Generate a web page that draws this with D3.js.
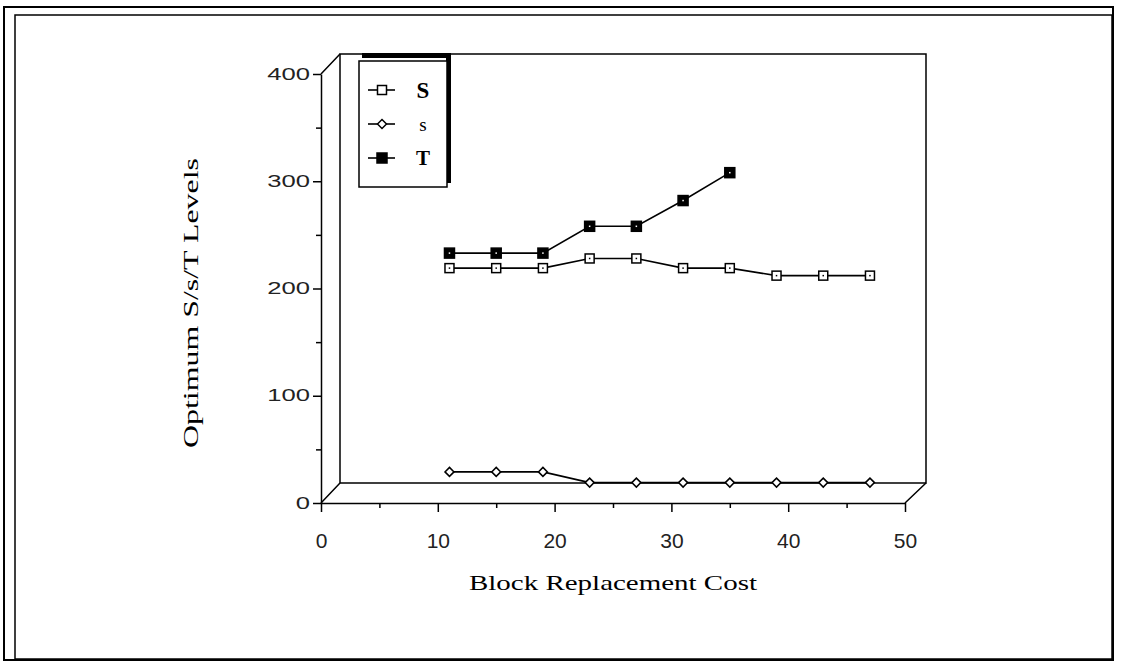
<!DOCTYPE html>
<html>
<head>
<meta charset="utf-8">
<script src="https://cdn.jsdelivr.net/npm/d3@7"></script>
<style>
  body { margin: 0; background: #fff; }
  svg { display: block; }
</style>
</head>
<body>
<script>
const costs = [11, 15, 19, 23, 27, 31, 35, 39, 43, 47];
const bigS = [219, 219, 219, 228, 228, 219, 219, 212, 212, 212];
const smallS = [29, 29, 29, 19, 19, 19, 19, 19, 19, 19];
const bigT = [233, 233, 233, 258, 258, 282, 308];
const yTicks = [0, 100, 200, 300, 400];
const yMinor = [50, 150, 250, 350];
const xTicks = [0, 10, 20, 30, 40, 50];
const xMinor = [5, 15, 25, 35, 45];

const width = 1121, height = 667;
const depth = { dx: 19, dy: -20 };
const serif = '"Liberation Serif", "Times New Roman", serif';
const sans = '"Liberation Sans", Arial, sans-serif';

const x = d3.scaleLinear().domain([0, 50]).range([321, 905]);
const y = d3.scaleLinear().domain([0, 400]).range([503, 74]);

const svg = d3.create('svg')
    .attr('width', width)
    .attr('height', height);

// outer double frame
svg.append('rect')
    .attr('x', 4).attr('y', 7).attr('width', 1109).attr('height', 653)
    .attr('fill', 'none').attr('stroke', '#000').attr('stroke-width', 2);
svg.append('rect')
    .attr('x', 15).attr('y', 15).attr('width', 1097).attr('height', 644)
    .attr('fill', 'none').attr('stroke', '#000').attr('stroke-width', 1.5);

// 3-D box: back wall and floor
const [x0, x1] = x.range();
const [y0, y1] = y.range();
const box = svg.append('g')
    .attr('fill', 'none')
    .attr('stroke', '#000')
    .attr('stroke-width', 1.5);
box.append('path')
    .attr('d', `M${x0 + depth.dx},${y0 + depth.dy}V${y1 + depth.dy}H${x1 + depth.dx + 2}V${y0 + depth.dy}H${x0 + depth.dx}`);
box.append('path')
    .attr('d', `M${x0},${y1}l${depth.dx},${depth.dy}M${x0},${y0}l${depth.dx},${depth.dy}M${x1},${y0}l${depth.dx + 2},${depth.dy}`);

// axes
const yAxis = svg.append('g')
    .attr('transform', `translate(${x0},0)`)
    .call(d3.axisLeft(y).tickValues(yTicks).tickSize(8).tickPadding(11).tickSizeOuter(0));
svg.append('g')
    .attr('transform', `translate(${x0},0)`)
    .call(d3.axisLeft(y).tickValues(yMinor).tickSize(5).tickFormat('').tickSizeOuter(0))
    .select('.domain').remove();

const xAxis = svg.append('g')
    .attr('transform', `translate(0,${y0})`)
    .call(d3.axisBottom(x).tickValues(xTicks).tickSize(9).tickPadding(21).tickSizeOuter(0));
svg.append('g')
    .attr('transform', `translate(0,${y0})`)
    .call(d3.axisBottom(x).tickValues(xMinor).tickSize(5).tickFormat('').tickSizeOuter(0))
    .select('.domain').remove();

svg.selectAll('.domain, .tick line')
    .attr('stroke', '#000')
    .attr('stroke-width', 1.5);

yAxis.selectAll('.tick text')
    .attr('font-family', sans)
    .attr('font-size', 16)
    .attr('fill', '#222')
    .attr('x', -11 / 1.6)
    .attr('transform', 'scale(1.6,1)');

xAxis.selectAll('.tick text')
    .attr('font-family', sans)
    .attr('font-size', 21)
    .attr('fill', '#222');

// series
const line = d3.line()
    .x(d => x(d[0]))
    .y(d => y(d[1]));

const seriesS = costs.map((c, i) => [c, bigS[i]]);
const seriesSmall = costs.map((c, i) => [c, smallS[i]]);
const seriesT = bigT.map((v, i) => [costs[i], v]);

[seriesSmall, seriesS, seriesT].forEach(s => {
    svg.append('path')
        .datum(s)
        .attr('fill', 'none')
        .attr('stroke', '#000')
        .attr('stroke-width', 1.6)
        .attr('d', line);
});

const square = (g, data, size, filled) => {
    g.selectAll(null)
        .data(data)
        .join('rect')
        .attr('x', d => x(d[0]) - size / 2)
        .attr('y', d => y(d[1]) - size / 2)
        .attr('width', size)
        .attr('height', size)
        .attr('fill', filled ? '#000' : '#fff')
        .attr('stroke', '#000')
        .attr('stroke-width', 1.5);
    // the little dot in the middle of each marker
    g.selectAll(null)
        .data(data)
        .join('rect')
        .attr('x', d => x(d[0]) - 0.75)
        .attr('y', d => y(d[1]) - 0.75)
        .attr('width', 1.5)
        .attr('height', 1.5)
        .attr('fill', filled ? '#fff' : '#000');
};

const diamond = (g, data, r) => {
    g.selectAll(null)
        .data(data)
        .join('path')
        .attr('d', d => `M${x(d[0])},${y(d[1]) - r}l${r},${r}l${-r},${r}l${-r},${-r}Z`)
        .attr('fill', '#fff')
        .attr('stroke', '#000')
        .attr('stroke-width', 1.5);
};

const marks = svg.append('g');
diamond(marks, seriesSmall, 4.5);
square(marks, seriesS, 9, false);
square(marks, seriesT, 10, true);

// axis titles
svg.append('text')
    .attr('x', 613)
    .attr('y', 590)
    .attr('text-anchor', 'middle')
    .attr('font-family', serif)
    .attr('font-size', 21)
    .attr('textLength', 288)
    .attr('lengthAdjust', 'spacingAndGlyphs')
    .text('Block Replacement Cost');

svg.append('text')
    .attr('transform', 'translate(198,303) rotate(-90)')
    .attr('text-anchor', 'middle')
    .attr('font-family', serif)
    .attr('font-size', 21)
    .attr('textLength', 290)
    .attr('lengthAdjust', 'spacingAndGlyphs')
    .text('Optimum S/s/T Levels');

// legend
const legend = svg.append('g');
legend.append('rect')
    .attr('x', 362).attr('y', 53).attr('width', 89).attr('height', 5)
    .attr('fill', '#000');
legend.append('rect')
    .attr('x', 446).attr('y', 53).attr('width', 5).attr('height', 130)
    .attr('fill', '#000');
legend.append('rect')
    .attr('x', 359).attr('y', 61).attr('width', 88).attr('height', 126)
    .attr('fill', '#fff')
    .attr('stroke', '#000')
    .attr('stroke-width', 1.5);

const legendItems = [
    { label: 'S', y: 90, size: 23, weight: 'bold', kind: 'open' },
    { label: 's', y: 124, size: 19, weight: 'normal', kind: 'diamond' },
    { label: 'T', y: 158, size: 21, weight: 'bold', kind: 'filled' }
];

legendItems.forEach(item => {
    const g = legend.append('g');
    g.append('line')
        .attr('x1', 368).attr('x2', 395)
        .attr('y1', item.y).attr('y2', item.y)
        .attr('stroke', '#000').attr('stroke-width', 1.6);
    if (item.kind === 'diamond') {
        g.append('path')
            .attr('d', `M382,${item.y - 4.5}l4.5,4.5l-4.5,4.5l-4.5,-4.5Z`)
            .attr('fill', '#fff').attr('stroke', '#000').attr('stroke-width', 1.5);
    } else {
        const s = item.kind === 'filled' ? 10 : 9;
        g.append('rect')
            .attr('x', 382 - s / 2).attr('y', item.y - s / 2)
            .attr('width', s).attr('height', s)
            .attr('fill', item.kind === 'filled' ? '#000' : '#fff')
            .attr('stroke', '#000').attr('stroke-width', 1.5);
    }
    g.append('text')
        .attr('x', 423)
        .attr('y', item.y)
        .attr('dy', '0.35em')
        .attr('text-anchor', 'middle')
        .attr('font-family', serif)
        .attr('font-size', item.size)
        .attr('font-weight', item.weight)
        .text(item.label);
});

document.querySelector('body').appendChild(svg.node());
</script>
</body>
</html>
